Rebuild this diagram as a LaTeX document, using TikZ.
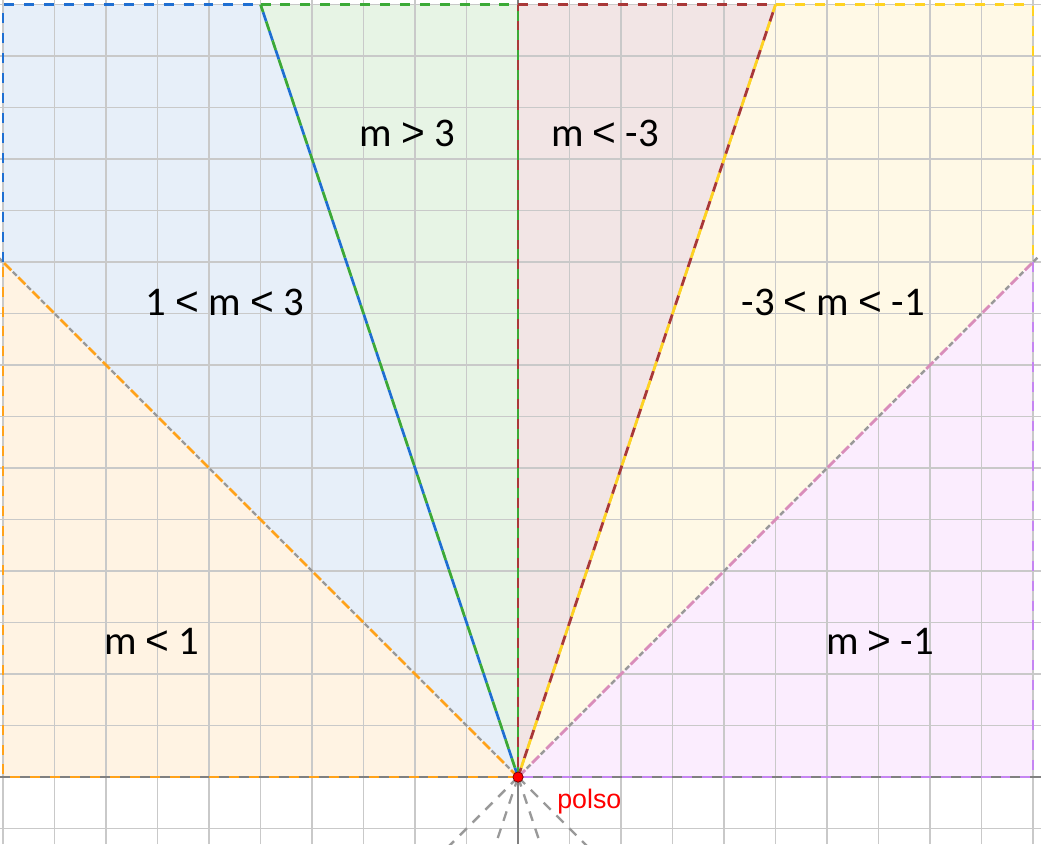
\documentclass[tikz,border=0pt]{standalone}
\usepackage{fontspec}
\setmainfont{Carlito}
\newfontfamily\polsofont{Liberation Sans}
\newfontfamily\relfont{Liberation Sans}
\newcommand{\ltsym}{{\relfont<}}
\newcommand{\gtsym}{{\relfont>}}
\usetikzlibrary{positioning}
\definecolor{fillorange}{HTML}{FFF3E3}
\definecolor{fillblue}{HTML}{E7EFF9}
\definecolor{fillgreen}{HTML}{E7F4E5}
\definecolor{fillbrown}{HTML}{F2E5E5}
\definecolor{fillyellow}{HTML}{FFF9E6}
\definecolor{fillpurple}{HTML}{FBEDFE}
\definecolor{rimorange}{HTML}{FFA21A}
\definecolor{rimblue}{HTML}{1F6FD2}
\definecolor{rimgreen}{HTML}{3BAA36}
\definecolor{rimbrown}{HTML}{A93838}
\definecolor{rimyellow}{HTML}{FFD321}
\definecolor{rimpurple}{HTML}{C585F2}
\definecolor{rimpink}{HTML}{D98DBA}

\begin{document}
\begin{tikzpicture}[
  gridline/.style={draw=black!21, line width=0.9pt},
  axisline/.style={draw=black!50, line width=1pt},
  ray/.style={draw=black!40, line width=1.3pt, dash pattern=on 3pt off 8pt, dash phase=4.25pt},
  tail/.style={draw=black!40, line width=1.3pt, dash pattern=on 5.5pt off 4.5pt},
  rim/.style={line width=1.5pt, dash pattern=on 5.5pt off 5.5pt},
  rimshift/.style={rim, dash phase=5.5pt},
  zone/.style={font=\fontsize{22.5}{27}\selectfont, text=black, inner sep=0pt},
  pole/.style={circle, fill=red, draw=red!45!black, line width=0.4pt, inner sep=0pt, minimum size=2mm},
  polsolabel/.style={font=\polsofont\fontsize{14.8}{17}\selectfont, text=red, inner sep=0pt}
]
\useasboundingbox (-10.06,-1.30) rectangle (10.155,15.09);
\clip (-10.06,-1.30) rectangle (10.155,15.09);

\coordinate (O) at (0,0);
\coordinate (A) at (-10,0);
\coordinate (B) at (-10,10);
\coordinate (C) at (-10,15);
\coordinate (D) at (-5,15);
\coordinate (E) at (0,15);
\coordinate (F) at (5,15);
\coordinate (G) at (10,15);
\coordinate (H) at (10,10);
\coordinate (I) at (10,0);

\fill[fillorange] (O) -- (A) -- (B) -- cycle;
\fill[fillblue] (O) -- (B) -- (C) -- (D) -- cycle;
\fill[fillgreen] (O) -- (D) -- (E) -- cycle;
\fill[fillbrown] (O) -- (E) -- (F) -- cycle;
\fill[fillyellow] (O) -- (F) -- (G) -- (H) -- cycle;
\fill[fillpurple] (O) -- (H) -- (I) -- cycle;

\draw[gridline] (-10.06,-1.30) grid (10.155,15.09);
\draw[axisline] (-10.06,0) -- (10.155,0);
\draw[axisline] (0,-1.30) -- (0,15.09);

\draw[ray] (O) -- (-10.5,10.5);
\draw[ray] (O) -- (-5.1,15.3);
\draw[ray] (O) -- (5.1,15.3);
\draw[ray] (O) -- (10.5,10.5);
\draw[tail] (O) -- (1.5,-1.5);
\draw[tail] (O) -- (0.5,-1.5);
\draw[tail] (O) -- (-0.5,-1.5);
\draw[tail] (O) -- (-1.5,-1.5);

\draw[rim, rimorange] (O) -- (A) -- (B);
\draw[rim, rimblue] (B) -- (C) -- (D);
\draw[rim, rimgreen] (D) -- (E);
\draw[rim, rimbrown] (E) -- (F);
\draw[rim, rimyellow] (F) -- (G) -- (H);
\draw[rim, rimpurple] (H) -- (I) -- (O);

\draw[rim, rimorange] (O) -- (B);
\draw[rim, rimblue] (O) -- (D);
\draw[rimshift, rimgreen] (O) -- (D);
\draw[rim, rimgreen] (O) -- (E);
\draw[rimshift, rimbrown] (O) -- (E);
\draw[rim, rimbrown] (O) -- (F);
\draw[rimshift, rimyellow] (O) -- (F);
\draw[rim, rimpink] (O) -- (H);

\node[zone] (gt3) at (-2.155,12.50) {m \gtsym{} 3};
\node[zone] (ltm3) at (1.69,12.50) {m \ltsym{} -3};
\node[zone] (in13) at (-5.69,9.22) {1 \ltsym{} m \ltsym{} 3};
\node[zone] (inm31) at (6.12,9.22) {-3 \ltsym{} m \ltsym{} -1};
\node[zone] (lt1) at (-7.11,2.64) {m \ltsym{} 1};
\node[zone] (gtm1) at (7.03,2.64) {m \gtsym{} -1};

\node[pole] (polo) at (O) {};
\node[polsolabel, below right=0.15cm and 0.68cm of polo] (polso) {polso};
\end{tikzpicture}
\end{document}
